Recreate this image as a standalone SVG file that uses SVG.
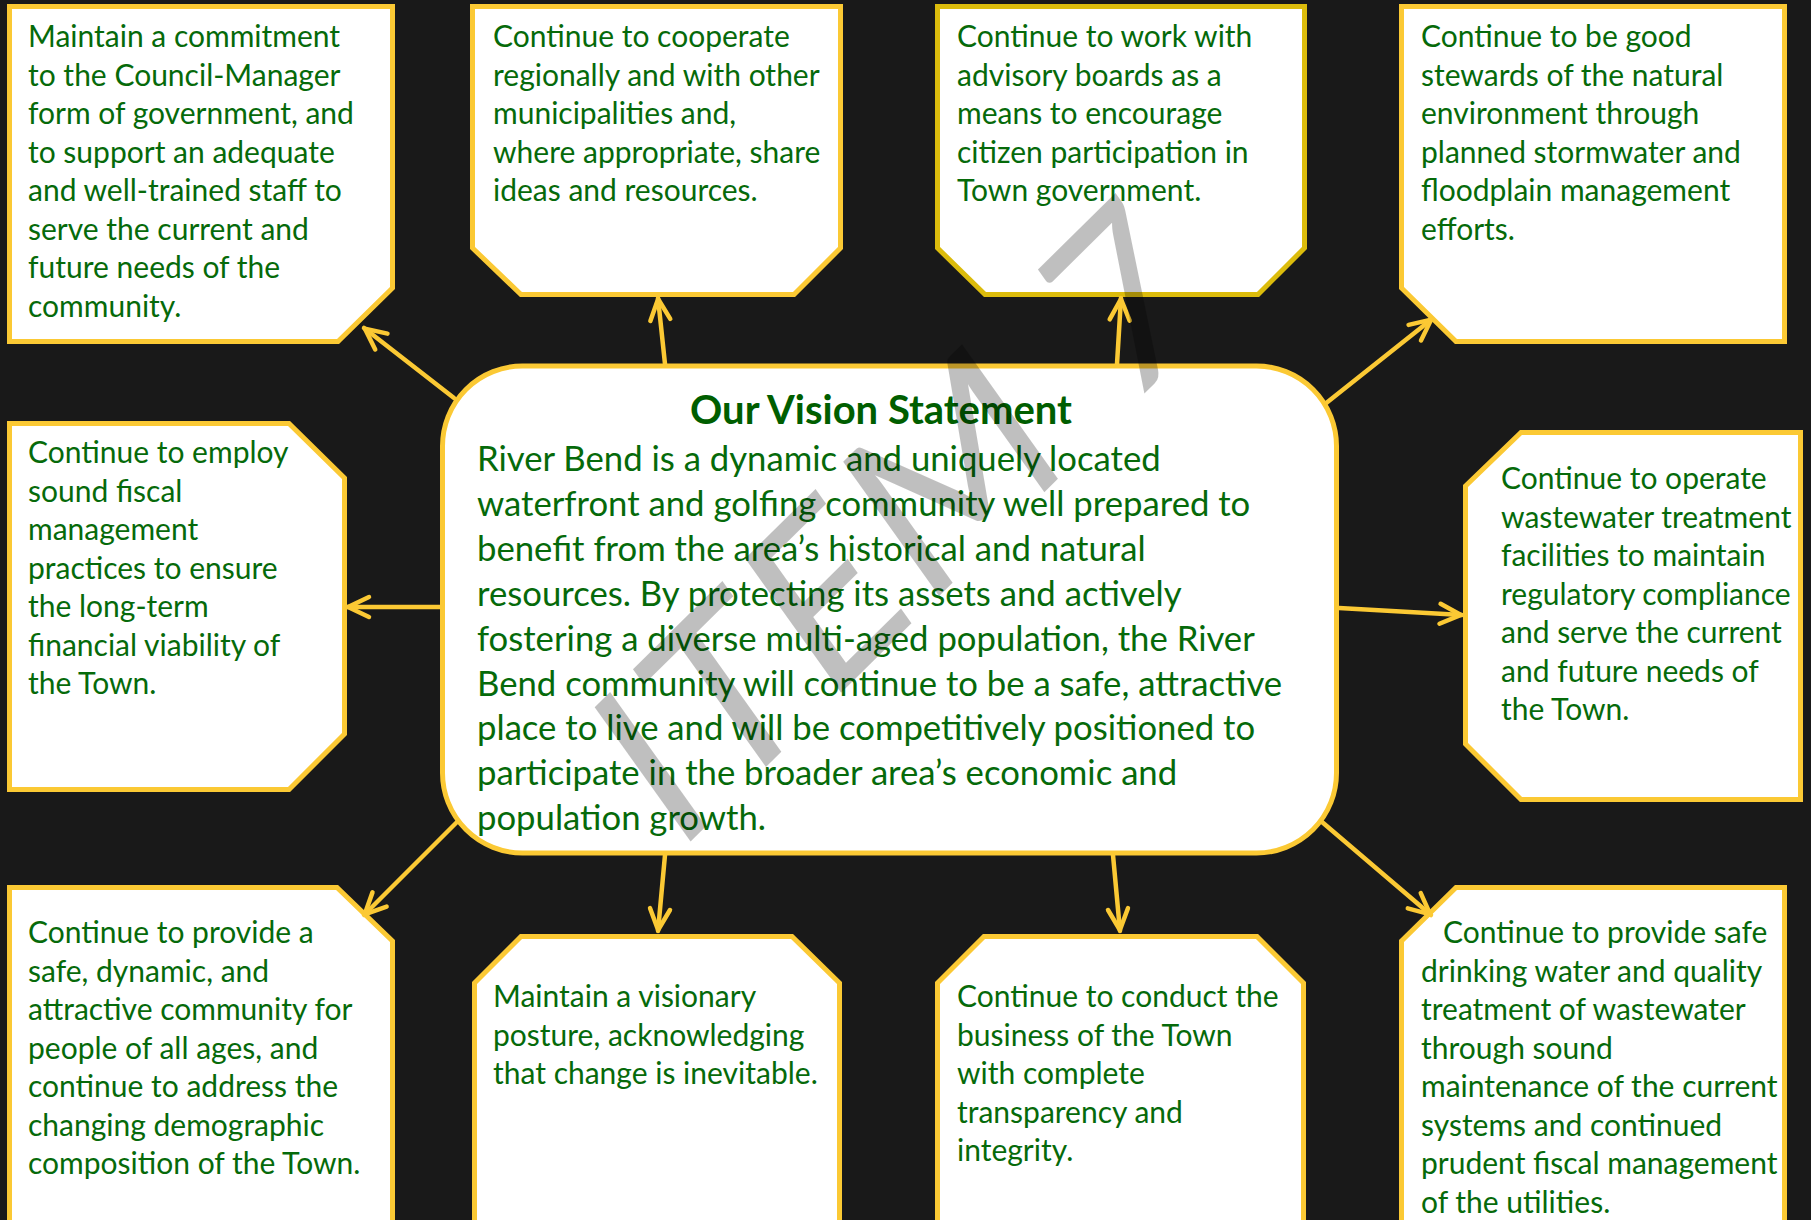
<svg xmlns="http://www.w3.org/2000/svg" width="1811" height="1220" viewBox="0 0 1811 1220">
  <defs>
    <style>
      .box { fill: #ffffff; stroke: #fbc934; stroke-width: 5; stroke-linejoin: miter; }
      .box.gold { stroke: #dcbc0c; }
      .hub { fill: #ffffff; stroke: #fbc934; stroke-width: 5; }
      .txt { font-family: Lato, "Liberation Sans", sans-serif; font-size: 30px; fill: #066a0a; }
      .body { font-family: Lato, "Liberation Sans", sans-serif; font-size: 34.7px; fill: #066a0a; }
      .title { font-family: Lato, "Liberation Sans", sans-serif; font-size: 40px; font-weight: bold; fill: #005e00; }
      .link { fill: none; stroke: #fbc934; stroke-width: 4.5; stroke-linecap: round; marker-end: url(#ah); }
      .stamp { font-family: Lato, "Liberation Sans", sans-serif; font-size: 245px; fill: #000000; fill-opacity: 0.25; }
    </style>
    <marker id="ah" viewBox="-26 -14 30 28" refX="1" refY="0" markerWidth="30" markerHeight="28" markerUnits="userSpaceOnUse" orient="auto">
      <path d="M-21,-10 L0,0 L-21,10" fill="none" stroke="#fbc934" stroke-width="4.5" stroke-linecap="round" stroke-linejoin="round"/>
    </marker>
  </defs>

  <rect x="0" y="0" width="1811" height="1220" fill="#191919"/>

  <!-- central vision statement -->
  <g id="vision">
    <rect class="hub" x="442.5" y="366" width="894" height="487" rx="80" ry="80"/>
    <text class="title" x="881" y="424" text-anchor="middle">Our Vision Statement</text>
    <text class="body">
      <tspan x="477" y="471">River Bend is a dynamic and uniquely located</tspan>
      <tspan x="477" y="516">waterfront and golfing community well prepared to</tspan>
      <tspan x="477" y="561">benefit from the area’s historical and natural</tspan>
      <tspan x="477" y="606">resources. By protecting its assets and actively</tspan>
      <tspan x="477" y="650.5">fostering a diverse multi-aged population, the River</tspan>
      <tspan x="477" y="695.5">Bend community will continue to be a safe, attractive</tspan>
      <tspan x="477" y="740">place to live and will be competitively positioned to</tspan>
      <tspan x="477" y="785">participate in the broader area’s economic and</tspan>
      <tspan x="477" y="830">population growth.</tspan>
    </text>
  </g>

  <g id="goal-council-manager">
    <path class="box" d="M9.5,6.5 H392.5 V288 L338,341.5 H9.5 Z"/>
    <text class="txt">
      <tspan x="28" y="47">Maintain a commitment</tspan>
      <tspan x="28" y="85.5">to the Council-Manager</tspan>
      <tspan x="28" y="124">form of government, and</tspan>
      <tspan x="28" y="162.5">to support an adequate</tspan>
      <tspan x="28" y="201">and well-trained staff to</tspan>
      <tspan x="28" y="239.5">serve the current and</tspan>
      <tspan x="28" y="278">future needs of the</tspan>
      <tspan x="28" y="316.5">community.</tspan>
    </text>
  </g>

  <g id="goal-regional">
    <path class="box" d="M472.5,6.5 H840.5 V248 L794,294.5 H521 L472.5,248 Z"/>
    <text class="txt">
      <tspan x="493" y="47">Continue to cooperate</tspan>
      <tspan x="493" y="85.5">regionally and with other</tspan>
      <tspan x="493" y="124">municipalities and,</tspan>
      <tspan x="493" y="162.5">where appropriate, share</tspan>
      <tspan x="493" y="201">ideas and resources.</tspan>
    </text>
  </g>

  <g id="goal-advisory-boards">
    <path class="box gold" d="M937.5,6.5 H1304.5 V248 L1258,294.5 H985 L937.5,248 Z"/>
    <text class="txt">
      <tspan x="957" y="47">Continue to work with</tspan>
      <tspan x="957" y="85.5">advisory boards as a</tspan>
      <tspan x="957" y="124">means to encourage</tspan>
      <tspan x="957" y="162.5">citizen participation in</tspan>
      <tspan x="957" y="201">Town government.</tspan>
    </text>
  </g>

  <g id="goal-stewardship">
    <path class="box" d="M1401.5,6.5 H1784.5 V341.5 H1456 L1401.5,288 Z"/>
    <text class="txt">
      <tspan x="1421" y="47">Continue to be good</tspan>
      <tspan x="1421" y="85.5">stewards of the natural</tspan>
      <tspan x="1421" y="124">environment through</tspan>
      <tspan x="1421" y="162.5">planned stormwater and</tspan>
      <tspan x="1421" y="201">floodplain management</tspan>
      <tspan x="1421" y="239.5">efforts.</tspan>
    </text>
  </g>

  <g id="goal-fiscal">
    <path class="box" d="M9.5,423.5 H289 L344.5,478 V734 L289,789.5 H9.5 Z"/>
    <text class="txt">
      <tspan x="28" y="463">Continue to employ</tspan>
      <tspan x="28" y="501.5">sound fiscal</tspan>
      <tspan x="28" y="540">management</tspan>
      <tspan x="28" y="578.5">practices to ensure</tspan>
      <tspan x="28" y="617">the long-term</tspan>
      <tspan x="28" y="655.5">financial viability of</tspan>
      <tspan x="28" y="694">the Town.</tspan>
    </text>
  </g>

  <g id="goal-wastewater">
    <path class="box" d="M1521,432.5 H1800.5 V799.5 H1521 L1465.5,744 V486 Z"/>
    <text class="txt">
      <tspan x="1501" y="489">Continue to operate</tspan>
      <tspan x="1501" y="527.5">wastewater treatment</tspan>
      <tspan x="1501" y="566">facilities to maintain</tspan>
      <tspan x="1501" y="604.5">regulatory compliance</tspan>
      <tspan x="1501" y="643">and serve the current</tspan>
      <tspan x="1501" y="681.5">and future needs of</tspan>
      <tspan x="1501" y="720">the Town.</tspan>
    </text>
  </g>

  <g id="goal-community">
    <path class="box" d="M9.5,887.5 H337 L392.5,941 V1240 H9.5 Z"/>
    <text class="txt">
      <tspan x="28" y="943">Continue to provide a</tspan>
      <tspan x="28" y="981.5">safe, dynamic, and</tspan>
      <tspan x="28" y="1020">attractive community for</tspan>
      <tspan x="28" y="1058.5">people of all ages, and</tspan>
      <tspan x="28" y="1097">continue to address the</tspan>
      <tspan x="28" y="1135.5">changing demographic</tspan>
      <tspan x="28" y="1174">composition of the Town.</tspan>
    </text>
  </g>

  <g id="goal-visionary">
    <path class="box" d="M474.5,983 L521,936.5 H792 L839.5,983 V1240 H474.5 Z"/>
    <text class="txt">
      <tspan x="493" y="1007">Maintain a visionary</tspan>
      <tspan x="493" y="1045.5">posture, acknowledging</tspan>
      <tspan x="493" y="1084">that change is inevitable.</tspan>
    </text>
  </g>

  <g id="goal-transparency">
    <path class="box" d="M937.5,983 L984,936.5 H1257 L1303.5,983 V1240 H937.5 Z"/>
    <text class="txt">
      <tspan x="957" y="1007">Continue to conduct the</tspan>
      <tspan x="957" y="1045.5">business of the Town</tspan>
      <tspan x="957" y="1084">with complete</tspan>
      <tspan x="957" y="1122.5">transparency and</tspan>
      <tspan x="957" y="1161">integrity.</tspan>
    </text>
  </g>

  <g id="goal-utilities">
    <path class="box" d="M1401.5,941 L1456,887.5 H1784.5 V1240 H1401.5 Z"/>
    <text class="txt">
      <tspan x="1443" y="943">Continue to provide safe</tspan>
      <tspan x="1421" y="981.5">drinking water and quality</tspan>
      <tspan x="1421" y="1020">treatment of wastewater</tspan>
      <tspan x="1421" y="1058.5">through sound</tspan>
      <tspan x="1421" y="1097">maintenance of the current</tspan>
      <tspan x="1421" y="1135.5">systems and continued</tspan>
      <tspan x="1421" y="1174">prudent fiscal management</tspan>
      <tspan x="1421" y="1212.5">of the utilities.</tspan>
    </text>
  </g>

  <!-- connectors from the vision statement out to each goal -->
  <g id="connectors">
    <line class="link" x1="454" y1="398" x2="364" y2="328"/>
    <line class="link" x1="665" y1="364" x2="658" y2="298"/>
    <line class="link" x1="1117" y1="364" x2="1121" y2="298"/>
    <line class="link" x1="1325" y1="404" x2="1432" y2="319"/>
    <line class="link" x1="440" y1="607" x2="347" y2="607"/>
    <line class="link" x1="1339" y1="608" x2="1462" y2="615"/>
    <line class="link" x1="457" y1="822" x2="364" y2="915"/>
    <line class="link" x1="665" y1="855" x2="658" y2="931"/>
    <line class="link" x1="1113" y1="855" x2="1120" y2="931"/>
    <line class="link" x1="1322" y1="822" x2="1431" y2="915"/>
  </g>

  <!-- agenda stamp laid over the page -->
  <text class="stamp" transform="translate(676,856) scale(0.85,1) rotate(-40)" letter-spacing="9">ITEM 7</text>
</svg>
